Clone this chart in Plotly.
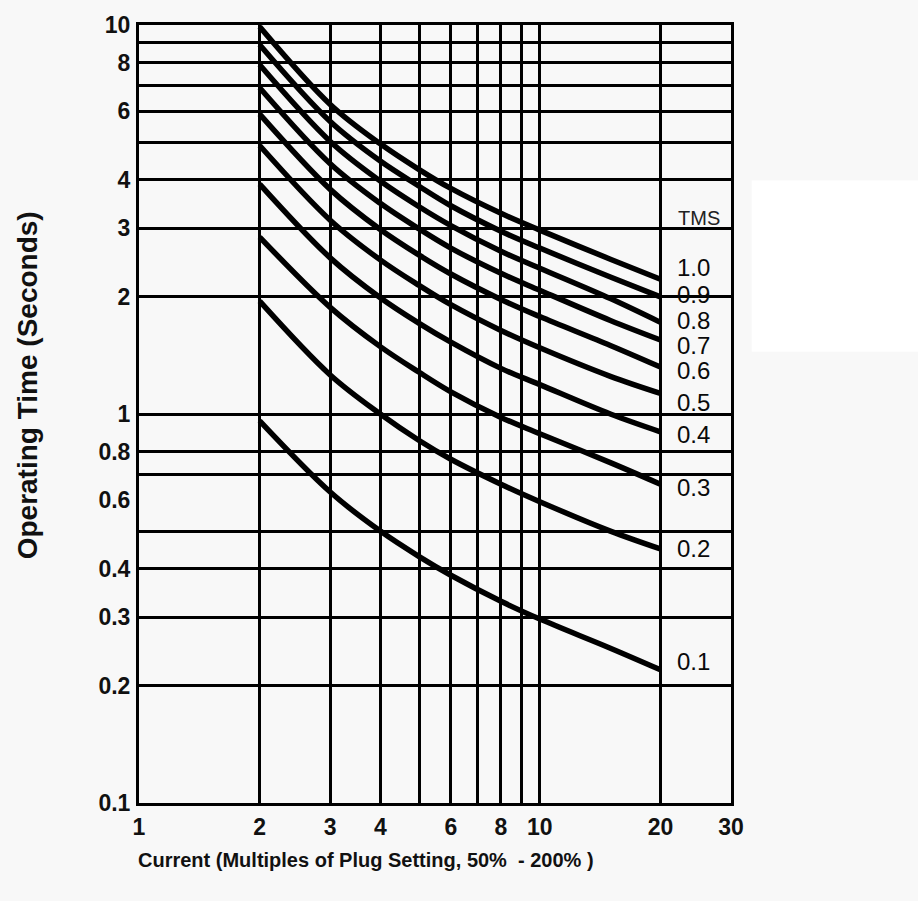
import math
import plotly.graph_objects as go

# ---- data ----
current_multiple = [2, 3, 4, 5, 6, 8, 10, 15, 20]

tms_labels = ["1.0", "0.9", "0.8", "0.7", "0.6", "0.5", "0.4", "0.3", "0.2", "0.1"]

t_tms_10 = [9.9, 6.25, 4.95, 4.25, 3.8, 3.28, 2.97, 2.5, 2.22]
t_tms_09 = [8.9, 5.65, 4.47, 3.85, 3.43, 2.95, 2.67, 2.25, 2.0]
t_tms_08 = [7.9, 5.02, 3.97, 3.41, 3.05, 2.62, 2.37, 1.98, 1.72]
t_tms_07 = [6.9, 4.4, 3.48, 2.99, 2.67, 2.3, 2.08, 1.74, 1.55]
t_tms_06 = [5.9, 3.78, 2.98, 2.56, 2.29, 1.97, 1.78, 1.5, 1.32]
t_tms_05 = [4.9, 3.15, 2.49, 2.14, 1.91, 1.64, 1.48, 1.25, 1.13]
t_tms_04 = [3.9, 2.52, 1.99, 1.71, 1.53, 1.31, 1.19, 1.0, 0.9]
t_tms_03 = [2.85, 1.88, 1.49, 1.28, 1.14, 0.98, 0.89, 0.75, 0.66]
t_tms_02 = [1.95, 1.26, 1.0, 0.855, 0.765, 0.66, 0.595, 0.5, 0.45]
t_tms_01 = [0.96, 0.63, 0.5, 0.43, 0.385, 0.33, 0.297, 0.25, 0.22]

x_tick_vals = [1, 2, 3, 4, 6, 8, 10, 20, 30]
x_tick_text = ["1", "2", "3", "4", "6", "8", "10", "20", "30"]
x_grid_vals = [2, 3, 4, 5, 6, 7, 8, 9, 10, 20]

y_tick_vals = [0.1, 0.2, 0.3, 0.4, 0.6, 0.8, 1, 2, 3, 4, 6, 8, 10]
y_tick_text = ["0.1", "0.2", "0.3", "0.4", "0.6", "0.8", "1", "2", "3", "4", "6", "8", "10"]
y_grid_vals = [0.2, 0.3, 0.4, 0.5, 0.7, 0.8, 1, 2, 3, 4, 5, 6, 7, 8, 9]

x_title = "Current (Multiples of Plug Setting, 50%  - 200% )"
y_title = "Operating Time (Seconds)"

series = [t_tms_10, t_tms_09, t_tms_08, t_tms_07, t_tms_06,
          t_tms_05, t_tms_04, t_tms_03, t_tms_02, t_tms_01]
label_yshift = [12, 2, 2, -6, -3, -9, -3, -3, 0, 8]

FONT = "Liberation Sans, Arial, sans-serif"
BG = "#f8f8f8"

fig = go.Figure()
for lab, ys in zip(tms_labels, series):
    fig.add_trace(go.Scatter(
        x=current_multiple, y=ys, mode="lines",
        line=dict(color="black", width=5.5, shape="spline", smoothing=1.0),
        name="TMS " + lab, showlegend=False, hoverinfo="skip"))

annotations = []
for lab, ys, dy in zip(tms_labels, series, label_yshift):
    annotations.append(dict(
        x=math.log10(current_multiple[-1]), y=math.log10(ys[-1]),
        xref="x", yref="y",
        xanchor="center", yanchor="middle", text=lab, showarrow=False,
        xshift=33, yshift=dy, font=dict(family=FONT, size=24, color="#0a0a0a")))

annotations.append(dict(
    x=math.log10(current_multiple[-1]), y=math.log10(t_tms_10[-1]),
    xref="x", yref="y",
    xanchor="center", yanchor="middle", text="TMS", showarrow=False,
    xshift=39, yshift=61, font=dict(family=FONT, size=20, color="#222")))

annotations.append(dict(
    x=0.383, y=-0.0733, xref="paper", yref="paper",
    xanchor="center", yanchor="middle", text=x_title, showarrow=False,
    font=dict(family=FONT, size=20, weight="bold", color="#111")))

annotations.append(dict(
    x=-0.189, y=0.537, xref="paper", yref="paper", textangle=-90,
    xanchor="center", yanchor="middle", text=y_title, showarrow=False,
    font=dict(family=FONT, size=28, weight="bold", color="#111")))

fig.update_layout(
    width=918, height=901,
    margin=dict(l=139, r=187, t=25, b=98, autoexpand=False),
    paper_bgcolor=BG, plot_bgcolor=BG,
    annotations=annotations,
    shapes=[dict(type="rect", xref="paper", yref="paper",
                 x0=1.035, x1=1.32, y0=0.58, y1=0.80,
                 fillcolor="white", line=dict(width=0), layer="below")],
    font=dict(family=FONT, color="black"),
)

fig.update_xaxes(
    type="log", range=[0, 1.4771], automargin=False,
    tickmode="array", tickvals=x_tick_vals, ticktext=x_tick_text,
    tickfont=dict(family=FONT, size=23, weight="bold", color="#111"),
    ticks="", ticklabelstandoff=1,
    showgrid=False, zeroline=False,
    showline=True, linecolor="black", linewidth=3, mirror=True,
    minor=dict(tickmode="array", tickvals=x_grid_vals, showgrid=True,
               gridcolor="black", gridwidth=3, ticks=""),
)

fig.update_yaxes(
    type="log", range=[-1, 1], automargin=False,
    tickmode="array", tickvals=y_tick_vals, ticktext=y_tick_text,
    tickfont=dict(family=FONT, size=23, weight="bold", color="#111"),
    ticks="", ticklabelstandoff=1,
    showgrid=False, zeroline=False,
    showline=True, linecolor="black", linewidth=3, mirror=True,
    minor=dict(tickmode="array", tickvals=y_grid_vals, showgrid=True,
               gridcolor="black", gridwidth=2.5, ticks=""),
)

fig.write_html("out.html")
